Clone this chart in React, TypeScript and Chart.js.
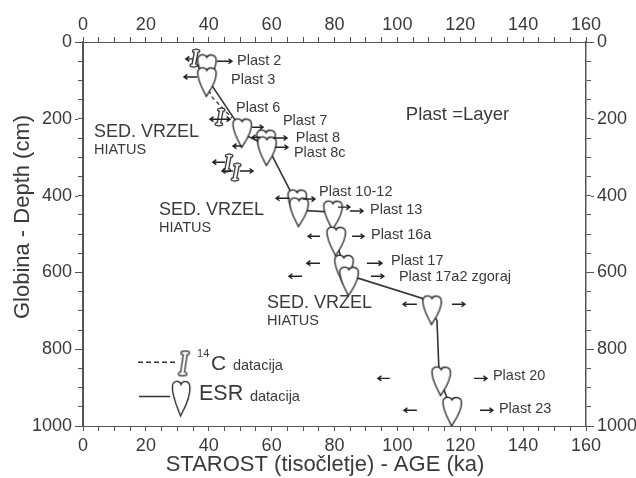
import React, { useEffect, useRef } from "react";
import { Chart, registerables } from "chart.js";

Chart.register(...registerables);

const INK = "#3a3a3a";
const LINE = "#333333";
const FONT = '"Liberation Sans", Arial, sans-serif';

// ESR tooth markers
const heartAge = [39.4, 39.4, 50.6, 58.2, 58.5, 68.1, 68.7, 79.5, 80.5, 83, 84.6, 111, 113.9, 117.4];
const heartDepth = [70, 104, 237, 266, 284, 422, 443, 451, 519, 592, 623, 698, 883, 962];

// ESR connecting line
const esrLineAge = [39.4, 39.4, 41.3, 47.7, 51.5, 58.2, 60.4, 65.8, 68.7, 79.5, 79.5, 80.5, 82.1, 84.6, 87.5, 107.8, 112.6, 113.2, 114.5, 116.7];
const esrLineDepth = [47, 99, 117, 195, 242, 268, 300, 386, 438, 443, 477, 516, 563, 620, 615, 667, 725, 850, 899, 946];

// 14C bone markers and dashed line
const boneAge = [35.6, 43.6, 46.1, 48.7];
const boneDepth = [42, 195, 315, 339];
const c14LineAge = [35.6, 41, 47.4];
const c14LineDepth = [42, 143, 198];

// Uncertainty arrows
const arrowTail = [35, 42.6, 36.3, 43.6, 43.6, 53.8, 50.6, 56.3, 60.4, 61.1, 45.2, 47.7, 49.9, 65.8, 70, 81.1, 84.9, 75.4, 85.6, 75.4, 90.3, 69.7, 91.6, 106.2, 117.4, 97.6, 124.4, 106.2, 126.3];
const arrowTip = [32.7, 47.4, 32.1, 40.4, 46.8, 57.3, 47.7, 53.8, 64.9, 65.2, 41.3, 44.2, 54.1, 61.4, 73.8, 84.9, 89.1, 71.6, 89.4, 71.2, 95.1, 65.5, 95.7, 101.8, 121.5, 93.8, 128.5, 102.1, 130.4];
const arrowDepth = [44, 50, 91, 201, 201, 222, 271, 248, 250, 274, 313, 336, 336, 407, 409, 430, 440, 506, 506, 576, 576, 610, 610, 683, 683, 876, 876, 959, 959];

// Layer labels
const plastText = ["Plast 2", "Plast 3", "Plast 6", "Plast 7", "Plast 8", "Plast 8c", "Plast 10-12", "Plast 13", "Plast 16a", "Plast 17", "Plast 17a2 zgoraj", "Plast 20", "Plast 23"];
const plastAge = [49, 47.1, 48.7, 63.6, 67.7, 67.1, 75.1, 91.3, 91.6, 98, 100.5, 130.4, 132.3];
const plastDepth = [50, 99, 172, 206, 250, 289, 391, 438, 503, 571, 612, 870, 956];

const sedAge = [3.5, 24.2, 58.5];
const sedDepth = [235, 438, 680];
const hiatusDepth = [281, 485, 727];

// In-plot legend
const legendDashAge = [17.5, 30.2];
const legendDashDepth = [834, 834];
const legendSolidAge = [17.8, 27.7];
const legendSolidDepth = [923, 923];
const legendBoneAge = [32.1];
const legendBoneDepth = [837];
const legendHeartAge = [31.2];
const legendHeartDepth = [928];

const xMin = 0, xMax = 160, xStep = 5, xLabelEvery = 20;
const yMin = 0, yMax = 1000, yStep = 50, yLabelEvery = 200;

const xTitle = "STAROST (tisočletje) - AGE (ka)";
const yTitle = "Globina - Depth (cm)";

const pts = (xs: number[], ys: number[]) => xs.map((x, i) => ({ x, y: ys[i] }));

function heartImage(w: number, h: number) {
  const c = document.createElement("canvas");
  const p = 2;
  c.width = w + p * 2;
  c.height = h + p * 2;
  const g = c.getContext("2d")!;
  g.translate(p, p);
  g.beginPath();
  g.moveTo(w * 0.5, h * 0.1);
  g.bezierCurveTo(w * 0.42, -h * 0.02, w * 0.08, -h * 0.03, w * 0.02, h * 0.14);
  g.bezierCurveTo(-w * 0.03, h * 0.42, w * 0.34, h * 0.82, w * 0.47, h);
  g.bezierCurveTo(w * 0.6, h * 0.86, w * 1.04, h * 0.5, w * 0.99, h * 0.17);
  g.bezierCurveTo(w * 0.96, -h * 0.02, w * 0.58, -h * 0.02, w * 0.5, h * 0.1);
  g.closePath();
  g.fillStyle = "#fff";
  g.fill();
  g.strokeStyle = "#1f1f1f";
  g.lineWidth = 1.3;
  g.stroke();
  return c;
}

function boneImage(w: number, h: number) {
  const c = document.createElement("canvas");
  const p = 2;
  c.width = w + p * 2;
  c.height = h + p * 2;
  const g = c.getContext("2d")!;
  g.translate(p, p);
  const tx = w * 0.64, bx = w * 0.36, ty = h * 0.1, by = h * 0.9;
  const part = (ink: string, extra: number) => {
    g.strokeStyle = ink;
    g.fillStyle = ink;
    g.lineCap = "round";
    g.lineWidth = w * 0.24 + extra;
    g.beginPath();
    g.moveTo(tx, ty);
    g.lineTo(bx, by);
    g.stroke();
    g.lineWidth = h * 0.08 + extra;
    g.beginPath();
    g.moveTo(tx - w * 0.26, ty);
    g.lineTo(tx + w * 0.22, ty);
    g.moveTo(bx - w * 0.22, by);
    g.lineTo(bx + w * 0.26, by);
    g.stroke();
  };
  part("#1f1f1f", 2.4);
  part("#fff", 0);
  return c;
}

const overlay = {
  id: "overlay",
  afterDatasetsDraw(chart: any) {
    const { ctx, scales } = chart;
    const X = scales.x, Y = scales.y;
    const text = (s: string, age: number, depth: number, size: number) => {
      ctx.font = `${size}px ${FONT}`;
      ctx.fillText(s, X.getPixelForValue(age), Y.getPixelForValue(depth));
    };
    ctx.save();
    // longer major ticks on the depth axes
    ctx.strokeStyle = "#555";
    ctx.lineWidth = 1;
    ctx.beginPath();
    for (const t of Y.ticks) {
      if (t.value % yLabelEvery === 0) {
        const py = Math.round(Y.getPixelForValue(t.value)) + 0.5;
        ctx.moveTo(X.left - 5, py);
        ctx.lineTo(X.left - 8, py);
        ctx.moveTo(X.right + 5, py);
        ctx.lineTo(X.right + 8, py);
      }
    }
    ctx.stroke();
    // arrows
    ctx.strokeStyle = "#222";
    ctx.lineWidth = 1.4;
    arrowTail.forEach((tail, i) => {
      const a = X.getPixelForValue(tail);
      const b = X.getPixelForValue(arrowTip[i]);
      const y = Y.getPixelForValue(arrowDepth[i]);
      const d = b > a ? 1 : -1;
      ctx.beginPath();
      ctx.moveTo(a, y);
      ctx.lineTo(b, y);
      ctx.moveTo(b - d * 3.5, y - 2.5);
      ctx.lineTo(b, y);
      ctx.lineTo(b - d * 3.5, y + 2.5);
      ctx.stroke();
    });
    // texts
    ctx.fillStyle = INK;
    ctx.textAlign = "left";
    ctx.textBaseline = "middle";
    plastText.forEach((s, i) => text(s, plastAge[i], plastDepth[i], 14.5));
    text("Plast =Layer", 102.7, 190, 18.5);
    sedAge.forEach((a, i) => {
      text("SED. VRZEL", a, sedDepth[i], 18);
      text("HIATUS", a, hiatusDepth[i], 14.5);
    });
    text("14", 36.3, 813, 11);
    text("C", 40.7, 839, 21);
    text("datacija", 47.7, 844, 14.5);
    text("ESR", 36.9, 917, 21.5);
    text("datacija", 53.1, 925, 14.5);
    // axis titles
    ctx.textAlign = "center";
    ctx.font = `22px ${FONT}`;
    ctx.fillText(xTitle, 325, 465);
    ctx.translate(23, 217);
    ctx.rotate(-Math.PI / 2);
    ctx.fillText(yTitle, 0, 0);
    ctx.restore();
  },
};

const tickFont = { family: FONT, size: 18 };

function xAxis(position: string, fit: number, pad: number) {
  return {
    type: "linear",
    position,
    min: xMin,
    max: xMax,
    afterFit: (s: any) => { s.height = fit; },
    border: { color: "#555", width: 1 },
    grid: { drawOnChartArea: false, drawTicks: true, tickLength: 5, tickColor: "#555" },
    ticks: {
      stepSize: xStep,
      autoSkip: false,
      maxRotation: 0,
      padding: pad,
      color: INK,
      font: tickFont,
      callback: (v: number) => (v % xLabelEvery === 0 ? String(v) : ""),
    },
  };
}

function yAxis(position: string, fit: number, width: number) {
  return {
    type: "linear",
    position,
    reverse: true,
    min: yMin,
    max: yMax,
    afterFit: (s: any) => { s.width = fit; },
    border: { color: "#555", width },
    grid: { drawOnChartArea: false, drawTicks: true, tickLength: 5, tickColor: "#555" },
    ticks: {
      stepSize: yStep,
      autoSkip: false,
      padding: 6,
      color: INK,
      font: tickFont,
      callback: (v: number) => (v % yLabelEvery === 0 ? String(v) : ""),
    },
  };
}

export default function App() {
  const ref = useRef<HTMLCanvasElement>(null);
  useEffect(() => {
    const heart = heartImage(19, 29);
    const bone = boneImage(10, 18);
    const legendHeart = heartImage(18, 35);
    const legendBone = boneImage(11, 26);
    const line = (data: any[], dash: number[]) => ({
      type: "scatter",
      data,
      showLine: true,
      borderColor: LINE,
      borderWidth: dash.length ? 1.3 : 1.6,
      borderDash: dash,
      pointRadius: 0,
      tension: 0,
    });
    const marks = (data: any[], style: any) => ({
      type: "scatter",
      data,
      showLine: false,
      pointStyle: style,
      pointRadius: 10,
    });
    const chart = new Chart(ref.current!, {
      type: "scatter",
      data: {
        // Chart.js paints the first dataset last, so marks come first
        datasets: [
          marks(pts(heartAge, heartDepth), heart),
          marks(pts(boneAge, boneDepth), bone),
          marks(pts(legendHeartAge, legendHeartDepth), legendHeart),
          marks(pts(legendBoneAge, legendBoneDepth), legendBone),
          line(pts(esrLineAge, esrLineDepth), []),
          line(pts(c14LineAge, c14LineDepth), [4, 3]),
          line(pts(legendSolidAge, legendSolidDepth), []),
          line(pts(legendDashAge, legendDashDepth), [5, 3]),
        ] as any,
      },
      options: {
        animation: false,
        responsive: false,
        layout: { padding: 0 },
        plugins: { legend: { display: false }, tooltip: { enabled: false }, title: { display: false } },
        scales: {
          x: xAxis("bottom", 52, 4),
          x2: xAxis("top", 42, 1),
          y: yAxis("left", 83, 2),
          y2: yAxis("right", 50, 1.5),
        } as any,
      },
      plugins: [overlay],
    } as any);
    return () => chart.destroy();
  }, []);
  return (
    <div style={{ position: "fixed", left: 0, top: 0, width: 636, height: 478, background: "#fff" }}>
      <canvas ref={ref} width={636} height={478} style={{ display: "block", filter: "blur(0.35px)" }} />
    </div>
  );
}
